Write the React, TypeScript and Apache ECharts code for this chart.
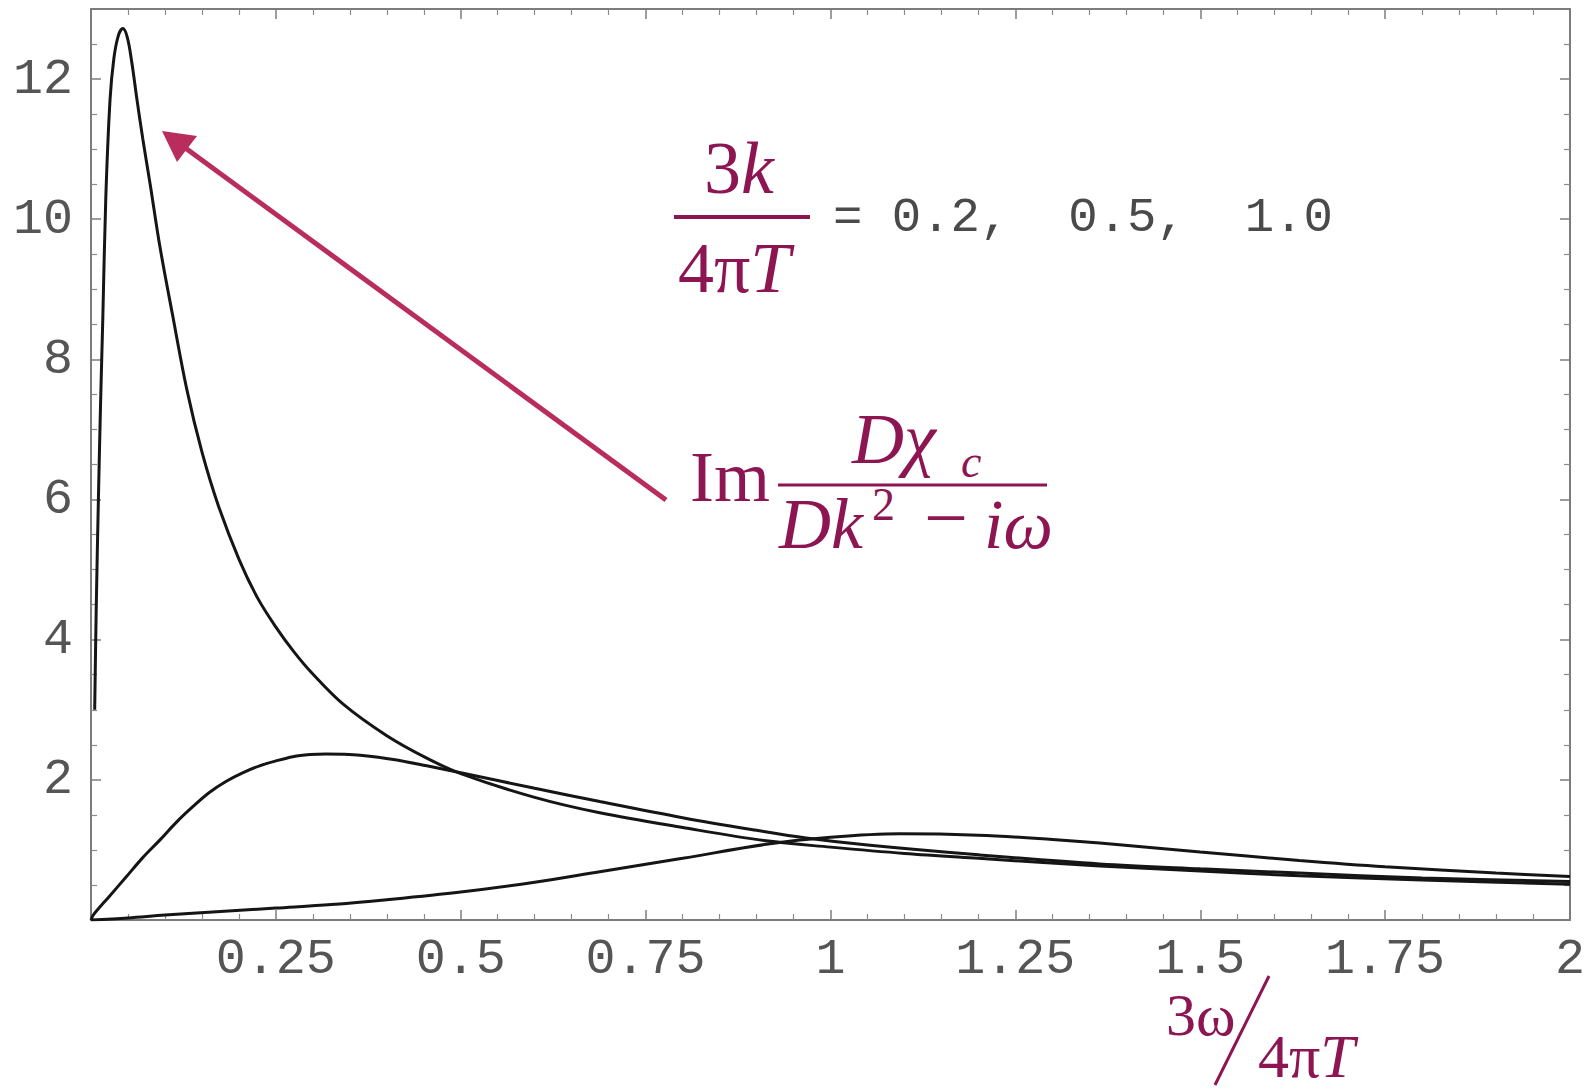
import React, { useEffect, useRef } from 'react';
import * as echarts from 'echarts';

// ---- data ----
const xTickLabels = ['', '0.25', '0.5', '0.75', '1', '1.25', '1.5', '1.75', '2'];
const yTickLabels = ['', '2', '4', '6', '8', '10', '12', ''];

// 3k/4πT = 0.2
const curveK02: [number, number][] = [
  [0.005, 3.0], [0.007, 4.4], [0.01, 6.0], [0.013, 7.4], [0.016, 8.6], [0.02, 10.3],
  [0.0257, 11.7], [0.031, 12.3], [0.037, 12.62], [0.043, 12.72], [0.049, 12.6],
  [0.055, 12.25], [0.062, 11.72], [0.07, 11.15], [0.08, 10.5], [0.093, 9.62],
  [0.11, 8.65], [0.13, 7.55], [0.15, 6.68], [0.172, 5.92], [0.2, 5.15], [0.225, 4.6],
  [0.25, 4.18], [0.275, 3.82], [0.3, 3.51], [0.341, 3.08], [0.4, 2.63], [0.454, 2.31],
  [0.5, 2.09], [0.6, 1.75], [0.688, 1.53], [0.8, 1.32], [0.913, 1.13], [1.0, 1.04],
  [1.1, 0.95], [1.2, 0.88], [1.364, 0.77], [1.5, 0.7], [1.634, 0.63], [1.8, 0.57], [2.0, 0.51],
];

// 3k/4πT = 0.5
const curveK05: [number, number][] = [
  [0, 0], [0.003, 0.07], [0.025, 0.34], [0.048, 0.62], [0.07, 0.89], [0.093, 1.14],
  [0.115, 1.39], [0.138, 1.62], [0.16, 1.82], [0.183, 1.98], [0.205, 2.1], [0.228, 2.2],
  [0.25, 2.27], [0.273, 2.33], [0.296, 2.36], [0.318, 2.37], [0.341, 2.365], [0.364, 2.35],
  [0.409, 2.29], [0.454, 2.2], [0.5, 2.1], [0.6, 1.88], [0.688, 1.69], [0.8, 1.46],
  [0.9, 1.28], [0.967, 1.17], [1.05, 1.07], [1.2, 0.93], [1.364, 0.8], [1.5, 0.73],
  [1.634, 0.67], [1.8, 0.6], [2.0, 0.55],
];

// 3k/4πT = 1.0
const curveK10: [number, number][] = [
  [0, 0], [0.05, 0.03], [0.1, 0.07], [0.175, 0.12], [0.25, 0.17], [0.325, 0.22],
  [0.4, 0.29], [0.5, 0.4], [0.6, 0.54], [0.688, 0.69], [0.8, 0.88], [0.913, 1.08],
  [1.0, 1.18], [1.093, 1.23], [1.2, 1.21], [1.3, 1.15], [1.364, 1.1], [1.5, 0.97],
  [1.634, 0.85], [1.75, 0.76], [1.9, 0.67], [2.0, 0.62],
];

const seriesNames = ['0.2', '0.5', '1.0'];

const TEXT = '#8c1552';
const ARROW = '#b92d5c';
const SERIF = '"Liberation Serif", "DejaVu Serif", serif';
const MONO = '"Liberation Mono", "DejaVu Sans Mono", monospace';

function txt(
  text: string, x: number, y: number, size: number, italic = false,
  fill = TEXT, family = SERIF, lineHeight?: number,
) {
  const style: any = {
    text,
    fill,
    fontSize: size,
    fontFamily: family,
    fontStyle: italic ? 'italic' : 'normal',
    align: 'left',
    verticalAlign: 'middle',
  };
  if (lineHeight) style.lineHeight = lineHeight;
  return { type: 'text', x, y, z: 100, style };
}

// rich text: segments [text, italic]
function rich(parts: [string, boolean][], x: number, y: number, size: number) {
  const richStyles: any = {
    r: { fontFamily: SERIF, fontSize: size, fill: TEXT, fontStyle: 'normal' },
    i: { fontFamily: SERIF, fontSize: size, fill: TEXT, fontStyle: 'italic' },
  };
  return {
    type: 'text',
    x,
    y,
    z: 100,
    style: {
      text: parts.map(([t, it]) => `{${it ? 'i' : 'r'}|${t}}`).join(''),
      rich: richStyles,
      fill: TEXT,
      fontSize: size,
      fontFamily: SERIF,
      align: 'left',
      verticalAlign: 'middle',
    },
  };
}

export default function App() {
  const ref = useRef<HTMLDivElement>(null);

  useEffect(() => {
    const chart = echarts.init(ref.current!, null, { renderer: 'svg' });

    const axisLine = { show: true, onZero: false, lineStyle: { color: '#7c7c7c', width: 2 } };
    const axisTick = { show: true, inside: true, length: 10, lineStyle: { color: '#7c7c7c', width: 1.5 } };
    const minorTickX = { show: true, splitNumber: 5, length: 6, lineStyle: { color: '#8a8a8a', width: 1.2 } };
    const minorTickY = { show: true, splitNumber: 4, length: 6, lineStyle: { color: '#8a8a8a', width: 1.2 } };
    const labelStyle = { fontFamily: MONO, fontSize: 50, color: '#555555' };

    const mkSeries = (name: string, data: [number, number][]) => ({
      name,
      type: 'line',
      data,
      showSymbol: false,
      smooth: 0.35,
      lineStyle: { color: '#151515', width: 3 },
      emphasis: { disabled: true },
      z: 5,
    });

    const option: any = {
      animation: false,
      backgroundColor: '#ffffff',
      grid: { left: 91, right: 24, top: 9, bottom: 169, containLabel: false },
      xAxis: [
        {
          type: 'value', min: 0, max: 2, interval: 0.25, position: 'bottom',
          axisLine, axisTick, minorTick: minorTickX,
          splitLine: { show: false }, minorSplitLine: { show: false },
          axisLabel: { ...labelStyle, margin: 14, formatter: (_v: number, i: number) => xTickLabels[i] ?? '' },
        },
        {
          type: 'value', min: 0, max: 2, interval: 0.25, position: 'top',
          axisLine, axisTick, minorTick: minorTickX,
          splitLine: { show: false }, minorSplitLine: { show: false },
          axisLabel: { show: false },
        },
      ],
      yAxis: [
        {
          type: 'value', min: 0, max: 13, interval: 2, position: 'left',
          axisLine, axisTick, minorTick: minorTickY,
          splitLine: { show: false }, minorSplitLine: { show: false },
          axisLabel: { ...labelStyle, margin: 18, formatter: (_v: number, i: number) => yTickLabels[i] ?? '' },
        },
        {
          type: 'value', min: 0, max: 13, interval: 2, position: 'right',
          axisLine, axisTick, minorTick: minorTickY,
          splitLine: { show: false }, minorSplitLine: { show: false },
          axisLabel: { show: false },
        },
      ],
      series: [
        mkSeries(seriesNames[0], curveK02),
        mkSeries(seriesNames[1], curveK05),
        mkSeries(seriesNames[2], curveK10),
      ],
      graphic: [
        // arrow
        { type: 'line', z: 90, shape: { x1: 666, y1: 500, x2: 184, y2: 147 }, style: { stroke: ARROW, lineWidth: 5 } },
        { type: 'polygon', z: 90, shape: { points: [[162, 131], [197, 136], [177, 162]] }, style: { fill: ARROW } },
        // 3k / 4πT = 0.2, 0.5, 1.0
        rich([['3', false], ['k', true]], 704, 168, 74),
        { type: 'line', z: 100, shape: { x1: 674, y1: 217, x2: 810, y2: 217 }, style: { stroke: TEXT, lineWidth: 4 } },
        rich([['4π', false], ['T', true]], 678, 268, 72),
        txt('=\u00a00.2,\u00a0\u00a00.5,\u00a0\u00a01.0', 833, 218, 49, false, '#4a4a4a', MONO),
        // Im Dχc / (Dk² − iω)
        txt('Im', 690, 477, 72),
        txt('Dχ', 852, 439, 72, true, TEXT, SERIF, 54),
        txt('c', 961, 461, 46, true, TEXT, SERIF, 28),
        { type: 'line', z: 100, shape: { x1: 778, y1: 485, x2: 1047, y2: 485 }, style: { stroke: TEXT, lineWidth: 3 } },
        txt('Dk', 779, 524, 72, true),
        txt('2', 872, 504, 46),
        txt('−', 924, 517, 78),
        txt('iω', 984, 524, 70, true),
        // x-axis label 3ω / 4πT
        txt('3ω', 1166, 1015, 60),
        { type: 'line', z: 100, shape: { x1: 1269, y1: 976, x2: 1215, y2: 1085 }, style: { stroke: TEXT, lineWidth: 3 } },
        rich([['4π', false], ['T', true]], 1258, 1056, 62),
      ],
    };

    chart.setOption(option);
    return () => chart.dispose();
  }, []);

  return (
    <div
      ref={ref}
      style={{ position: 'fixed', left: 0, top: 0, width: '1594px', height: '1089px', background: '#ffffff' }}
    />
  );
}
